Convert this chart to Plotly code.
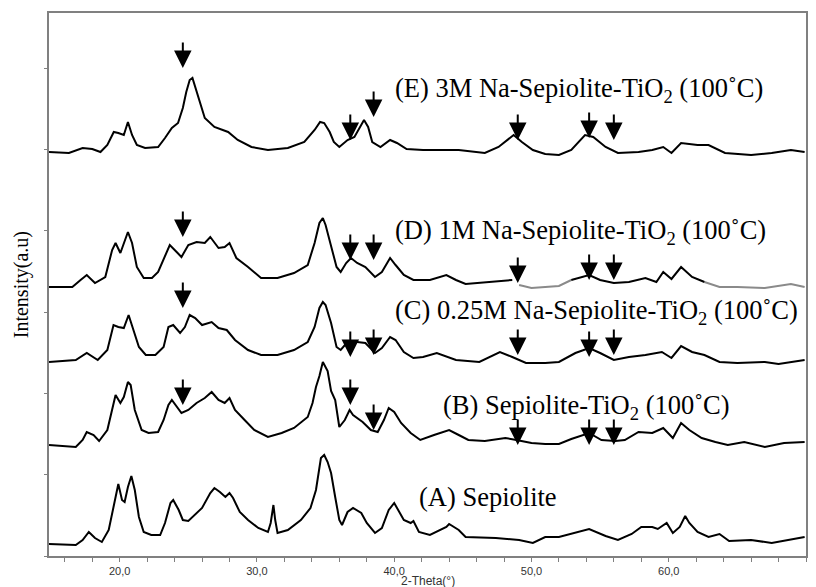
import plotly.graph_objects as go
import numpy as np

# ---------------- data (2-theta in degrees, intensity in a.u., stacked as read) ----------------
A_x = [14.85, 16.8, 17.3, 17.75, 18.2, 18.7, 19.2, 19.57, 19.9, 20.17, 20.36, 20.6, 20.85, 21.1, 21.4, 21.75,
       22.3, 22.95, 23.3, 23.7, 23.9, 24.3, 24.6, 25.0, 25.5, 26.0, 26.6, 26.9, 27.3, 27.7, 28.0, 28.26, 28.75,
       29.35, 30.1, 30.8, 31.0, 31.2, 31.33, 31.5, 32.25, 33.2, 33.9, 34.3, 34.66, 34.9, 35.15, 35.4, 35.7, 36.0,
       36.2, 36.6, 37.0, 37.6, 38.0, 38.6, 39.1, 39.6, 40.0, 40.3, 40.7, 41.2, 41.4, 41.8, 42.6, 43.8, 44.0, 44.7,
       45.2, 47.4, 49.1, 50.1, 51.0, 52.0, 52.9, 54.2, 55.4, 56.3, 57.3, 58.0, 58.8, 59.2, 59.85, 60.3, 60.8, 61.2,
       61.5, 62.1, 62.9, 63.7, 64.4, 66.0, 67.5, 68.7, 69.9]
A_y = [12, 11, 16, 24, 18, 14, 26, 49, 72, 56, 54, 69, 80, 66, 39, 24,
       21, 21, 33, 53, 56, 46, 36, 35, 41, 48, 63, 68, 64, 59, 63, 58, 44,
       36, 28, 24, 33, 51, 36, 23, 26, 36, 48, 66, 98, 101, 94, 83, 59, 36,
       31, 44, 48, 43, 33, 23, 28, 46, 53, 46, 36, 33, 35, 24, 21, 29, 32, 26,
       19, 18, 16, 13, 19, 19, 22, 27, 20, 16, 22, 29, 29, 27, 33, 23, 29, 40,
       33, 24, 19, 22, 15, 16, 13, 16, 19]

B_x = [14.85, 16.8, 17.3, 17.6, 18.1, 18.5, 19.1, 19.45, 19.7, 20.05, 20.3, 20.6, 20.8, 21.1, 21.6, 22.1,
       22.8, 23.2, 23.55, 23.8, 24.15, 24.5, 25.0, 25.6, 26.2, 26.7, 27.2, 27.65, 28.0, 28.4, 29.1, 29.8, 30.8,
       31.8, 32.7, 33.7, 34.05, 34.3, 34.55, 34.8, 35.15, 35.4, 35.7, 36.0, 36.4, 36.75, 37.0, 37.7, 38.3, 38.8,
       39.25, 39.6, 40.0, 40.5, 41.2, 41.9, 42.9, 44.0, 44.7, 45.4, 46.6, 48.1, 48.9, 50.0, 51.0, 52.0, 52.9,
       54.2, 55.1, 56.1, 56.8, 57.8, 58.8, 59.6, 60.3, 60.9, 61.5, 62.4, 63.4, 64.3, 65.5, 67.0, 68.4, 69.9]
B_y = [111, 109, 116, 124, 121, 115, 126, 146, 161, 153, 159, 174, 171, 146, 126, 123,
       124, 136, 151, 156, 149, 143, 146, 153, 158, 164, 156, 153, 158, 146, 136, 126, 119,
       123, 128, 139, 153, 169, 180, 194, 185, 165, 156, 129, 136, 146, 141, 134, 126, 124,
       136, 148, 144, 133, 123, 116, 121, 126, 121, 116, 115, 118, 116, 113, 112, 112, 117,
       123, 116, 115, 116, 124, 123, 128, 118, 133, 126, 118, 114, 111, 114, 109, 113, 114]

C_x = [14.85, 16.8, 17.6, 18.4, 19.1, 19.55, 19.9, 20.3, 20.65, 21.0, 21.4, 21.9, 22.6, 23.2, 23.55, 23.9,
       24.4, 24.75, 25.1, 25.5, 26.0, 26.7, 27.2, 27.8, 28.4, 29.35, 30.3, 31.5, 32.7, 33.7, 34.2, 34.55, 34.8,
       35.0, 35.4, 35.8, 36.1, 36.6, 37.3, 37.9, 38.6, 39.1, 39.7, 40.1, 40.7, 41.4, 42.1, 43.1, 44.5, 46.2,
       47.7, 48.6, 49.6, 51.0, 52.0, 53.2, 54.2, 55.0, 56.0, 57.1, 58.3, 59.5, 60.2, 60.9, 61.7, 62.6, 63.7,
       65.0, 67.0, 68.0, 69.9]
C_y = [194, 196, 203, 196, 206, 231, 229, 228, 241, 226, 209, 201, 201, 209, 229, 231,
       223, 229, 241, 238, 231, 234, 228, 226, 216, 206, 201, 201, 206, 214, 229, 248, 254,
       251, 233, 209, 206, 214, 214, 213, 203, 208, 219, 216, 204, 198, 199, 203, 196, 194,
       204, 199, 193, 193, 194, 203, 208, 203, 196, 199, 201, 204, 198, 210, 204, 201, 194,
       193, 194, 192, 196]

D_x = [14.85, 16.55, 17.15, 17.6, 18.2, 18.95, 19.45, 19.7, 20.05, 20.6, 20.9, 21.25, 21.75, 22.35, 22.8,
       23.3, 23.65, 24.15, 24.5, 25.0, 25.6, 26.2, 26.6, 27.2, 27.65, 28.0, 28.5, 29.35, 30.3, 31.5, 32.7, 33.7,
       34.2, 34.55, 34.8, 35.0, 35.4, 35.8, 36.1, 36.5, 36.85, 37.3, 37.9, 38.6, 39.1, 39.7, 40.1, 40.7, 41.4,
       42.6, 43.8, 44.5, 45.2, 47.2, 48.6, 49.1, 50.0, 51.0, 52.0, 52.9, 54.2, 55.0, 56.0, 57.1, 58.3, 59.1,
       59.6, 60.2, 60.9, 61.7, 62.6, 63.7, 65.0, 67.0, 68.9, 69.9]
D_y = [269, 269, 276, 281, 273, 279, 306, 313, 303, 324, 313, 289, 278, 278, 284,
       301, 311, 304, 299, 311, 314, 313, 319, 308, 309, 313, 298, 289, 278, 278, 283, 291,
       313, 333, 338, 331, 309, 289, 284, 293, 298, 293, 289, 279, 284, 298, 291, 281, 276,
       276, 281, 276, 272, 274, 276, 271, 268, 269, 270, 276, 281, 276, 273, 274, 278, 274,
       284, 277, 289, 279, 274, 269, 269, 268, 272, 269]

E_x = [14.85, 16.3, 17.3, 18.0, 18.6, 19.1, 19.57, 19.9, 20.3, 20.6, 20.9, 21.25, 21.85, 22.8, 23.3, 23.8,
       24.25, 24.6, 24.85, 25.1, 25.3, 25.5, 25.85, 26.2, 26.9, 27.9, 28.6, 29.6, 30.8, 32.25, 33.45, 34.2,
       34.6, 34.9, 35.3, 35.6, 36.0, 36.6, 37.1, 37.4, 37.8, 38.1, 38.4, 39.0, 39.7, 40.2, 40.9, 42.1, 43.8,
       44.7, 46.6, 47.6, 48.7, 49.3, 50.1, 51.0, 52.0, 52.9, 53.9, 54.5, 55.4, 56.3, 57.8, 58.8, 59.6, 60.2,
       60.9, 62.1, 62.9, 64.1, 66.0, 67.5, 68.9, 69.9]
E_y = [404, 403, 408, 407, 404, 411, 424, 423, 421, 434, 421, 411, 408, 409, 418, 428,
       433, 448, 464, 476, 478, 469, 453, 438, 429, 424, 416, 409, 406, 408, 414, 426,
       434, 433, 424, 414, 409, 416, 419, 426, 436, 429, 414, 409, 416, 413, 407, 406, 406,
       406, 403, 409, 421, 414, 406, 402, 401, 406, 421, 419, 409, 403, 404, 406, 409, 403,
       413, 411, 411, 403, 401, 403, 406, 404]

# arrow markers (2-theta, intensity at the arrow tip)
arrow_theta = [24.6, 36.8, 38.5, 49.0, 54.2, 56.0]
E_arrow_y = [488, 416, 439, 416, 418, 416]
D_arrow_y = [319, 296, 296, 273, 276, 276]
C_arrow_y = [248, 199, 201, 201, 199, 201]
B_arrow_y = [151, 151, 126, 111, 111, 111]

labels = ["(A) Sepiolite",
          "(B) Sepiolite-TiO<sub>2</sub> (100˚C)",
          "(C) 0.25M Na-Sepiolite-TiO<sub>2</sub> (100˚C)",
          "(D) 1M Na-Sepiolite-TiO<sub>2</sub> (100˚C)",
          "(E) 3M Na-Sepiolite-TiO<sub>2</sub> (100˚C)"]
label_x = [41.66, 43.4, 39.9, 39.9, 39.9]
label_y = [59, 149, 244, 324, 466]

major_ticks = [20, 30, 40, 50, 60, 70]
major_text = ["20,0", "30,0", "40,0", "50,0", "60,0", "70,0"]
y_ticks = [0, 81.3, 162.6, 243.9, 325.2, 406.5, 487.8]

# ---------------- figure ----------------
fig = go.Figure()
line_style = dict(color="black", width=2)

for xs, ys in [(A_x, A_y), (B_x, B_y), (C_x, C_y), (E_x, E_y)]:
    fig.add_trace(go.Scatter(x=xs, y=ys, mode="lines", line=line_style, hoverinfo="skip"))

# D drawn partly in grey (as in the scan)
dx = np.array(D_x, dtype=float); dy = np.array(D_y, dtype=float)
grey_mask = ((dx >= 49.0) & (dx <= 52.9)) | (dx >= 62.6)
edge = np.isin(dx, [49.0, 52.9, 62.6])
dark = np.where(grey_mask & ~edge, np.nan, dy)
fig.add_trace(go.Scatter(x=dx, y=np.where(grey_mask, dy, np.nan), mode="lines",
                         line=dict(color="#8a8a8a", width=2), hoverinfo="skip"))
fig.add_trace(go.Scatter(x=dx, y=dark, mode="lines", line=line_style, hoverinfo="skip",
                         connectgaps=False))

annotations = []
for ys in [E_arrow_y, D_arrow_y, C_arrow_y, B_arrow_y]:
    for t, yv in zip(arrow_theta, ys):
        annotations.append(dict(x=t, y=yv, xref="x", yref="y", ax=0, ay=-27, showarrow=True,
                                arrowhead=2, arrowsize=1.75, arrowwidth=2, arrowcolor="black", text=""))

for txt, lx, ly in zip(labels, label_x, label_y):
    annotations.append(dict(x=lx, y=ly, xref="x", yref="y", text=txt, showarrow=False,
                            xanchor="left", yanchor="middle",
                            font=dict(family="Liberation Serif", size=26.5, color="black")))

annotations.append(dict(x=-0.036, y=0.5, xref="paper", yref="paper", text="Intensity(a.u)",
                        textangle=-90, showarrow=False, xanchor="center", yanchor="middle",
                        font=dict(family="Liberation Serif", size=20, color="black")))
annotations.append(dict(x=0.5, y=-0.046, xref="paper", yref="paper", text="2-Theta(°)",
                        showarrow=False, xanchor="center", yanchor="middle",
                        font=dict(family="Liberation Sans", size=12, color="#333333")))

fig.update_layout(
    width=816, height=587,
    margin=dict(l=49, r=8, t=13, b=31),
    paper_bgcolor="white", plot_bgcolor="white",
    showlegend=False,
    annotations=annotations,
    xaxis=dict(range=[14.85, 70], tickmode="array", tickvals=major_ticks, ticktext=major_text,
               ticks="outside", ticklen=4, tickcolor="#808080", tickwidth=1,
               minor=dict(tickmode="linear", tick0=0, dtick=2, ticks="outside", ticklen=4,
                          tickcolor="#808080", showgrid=False),
               showline=True, linecolor="#808080", linewidth=2, mirror=True,
               showgrid=False, zeroline=False,
               tickfont=dict(family="Liberation Sans", size=11, color="#333333")),
    yaxis=dict(range=[0, 543], tickmode="array", tickvals=y_ticks, showticklabels=False,
               ticks="outside", ticklen=3, tickcolor="#808080",
               showline=True, linecolor="#808080", linewidth=2, mirror=True,
               showgrid=False, zeroline=False),
)

fig.write_html("out.html")
